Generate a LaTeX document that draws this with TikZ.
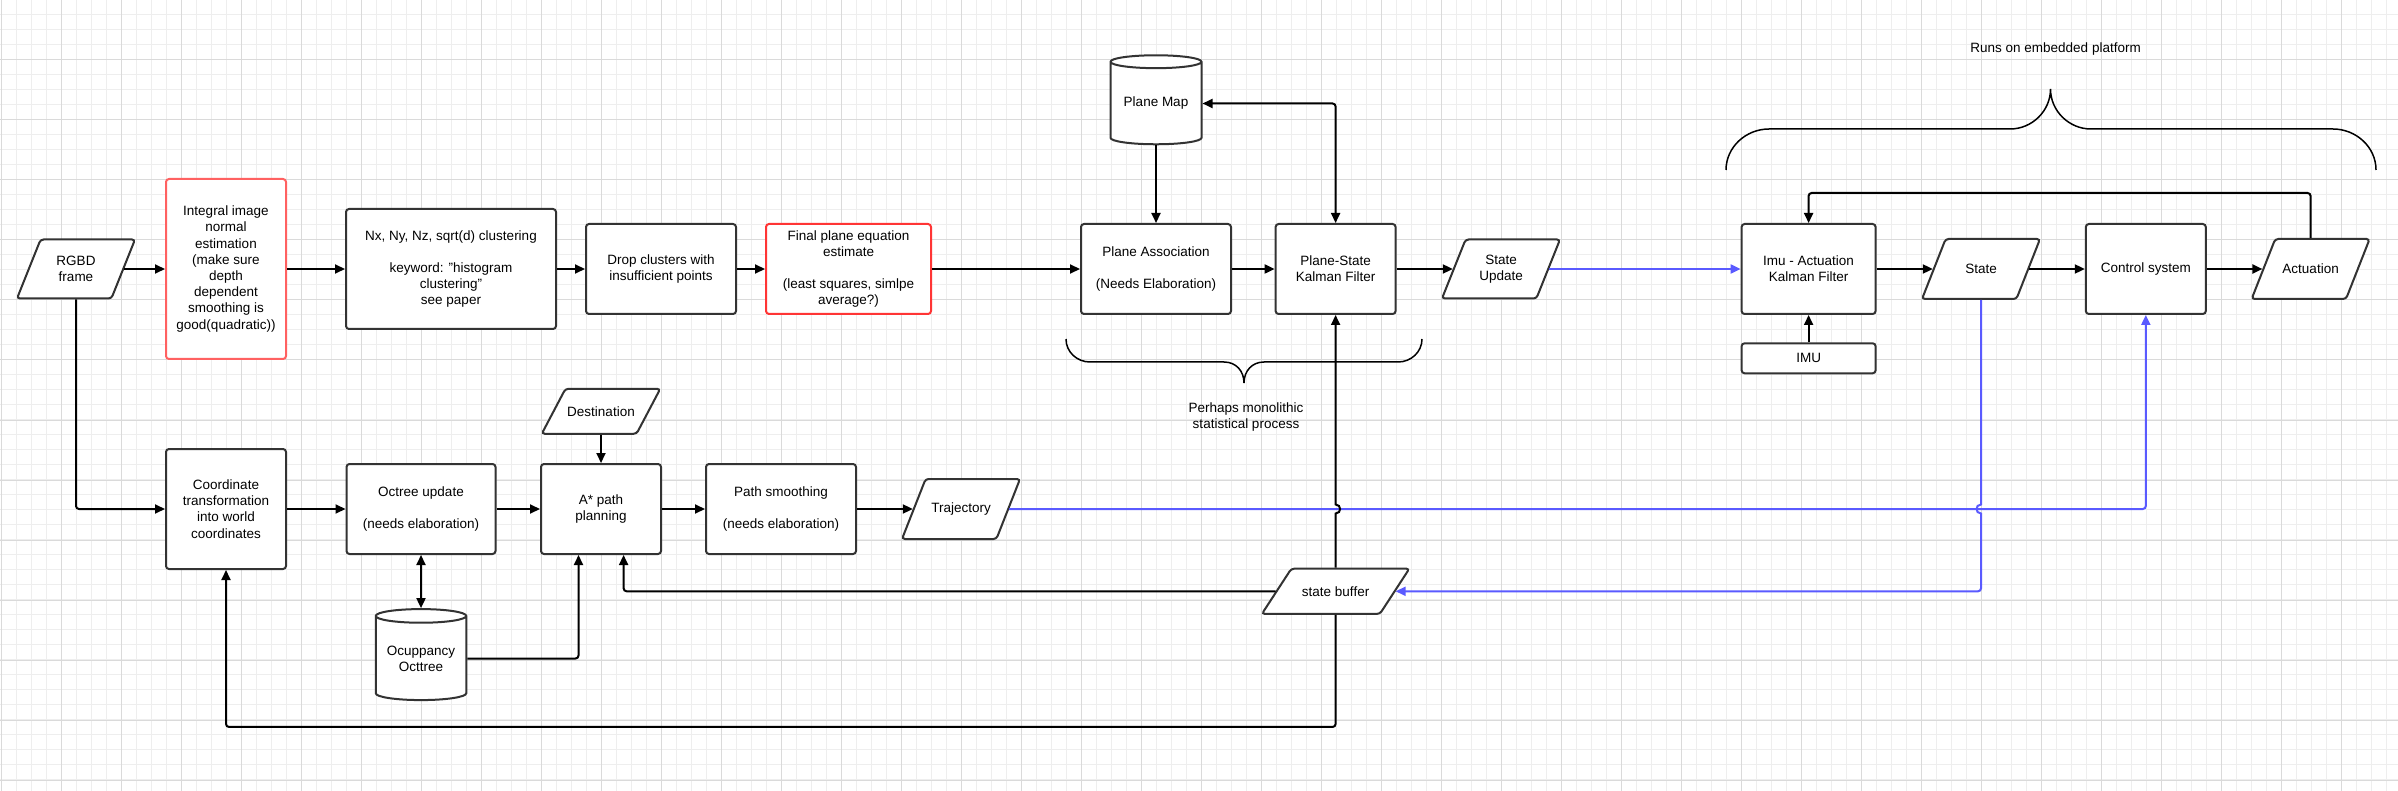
\documentclass[tikz,border=0pt]{standalone}
\usepackage{fontspec}
\setmainfont{Liberation Sans}
\usetikzlibrary{arrows.meta,calc}
\usetikzlibrary{positioning,shapes.geometric}

\definecolor{boxline}{HTML}{333333}
\definecolor{gridminor}{HTML}{EEEEEE}
\definecolor{gridmajor}{HTML}{DADADA}
\definecolor{redsoft}{HTML}{FF6161}
\definecolor{redstrong}{HTML}{FF3535}
\definecolor{bluelink}{HTML}{5A5AFF}

\tikzset{
  every node/.style={font=\fontsize{13.5}{16.2}\selectfont},
  procbox/.style={draw=boxline, line width=2pt, rounded corners=3pt, fill=white,
    align=center, inner sep=0pt},
  ioshape/.style={draw=boxline, line width=2pt, rounded corners=3pt, fill=white},
  iotext/.style={align=center, inner sep=0pt, outer sep=1pt},
  store/.style={cylinder, shape border rotate=90, aspect=0.2, draw=boxline,
    line width=2pt, fill=white, align=center, inner sep=0pt},
  conn/.style={draw=black, line width=2pt, rounded corners=3pt,
    -{Triangle[length=10pt,width=9pt]}},
  bothconn/.style={conn, {Triangle[length=10pt,width=9pt]}-{Triangle[length=10pt,width=9pt]}},
  blueconn/.style={conn, draw=bluelink},
  bracket/.style={draw=black, line width=1.5pt}
}

% slanted data box: name, x, y, width, height, text
\newcommand{\iopara}[6]{%
  \draw[ioshape] ({#2-#4/2},{#3+#5/2}) -- ({#2-0.3*#4},{#3-#5/2}) -- ({#2+#4/2},{#3-#5/2})
    -- ({#2+0.3*#4},{#3+#5/2}) -- cycle;
  \node[iotext, minimum width={0.8*#4}, minimum height=#5] (#1) at (#2,#3) {#6};
}

\begin{document}
\begin{tikzpicture}[x=1pt,y=-1pt]

  \useasboundingbox (0,0) rectangle (2398,791);
  \fill[white] (0,0) rectangle (2398,791);

  % background grid
  \foreach \i in {0,...,159}
    \draw[gridminor, line width=1pt] ({1+15*\i},0) -- ({1+15*\i},791);
  \foreach \j in {1,...,52}
    \draw[gridminor, line width=1pt] (0,{15*\j-0.5}) -- (2398,{15*\j-0.5});
  \foreach \i in {0,...,39}
    \draw[gridmajor, line width=1pt] ({1+60*\i},0) -- ({1+60*\i},791);
  \foreach \j in {1,...,13}
    \draw[gridmajor, line width=1pt] (0,{60*\j}) -- (2398,{60*\j});

  % upper row
  \iopara{rgbd}{76}{269}{118}{59}{RGBD\\frame}
  \node[procbox, draw=redsoft, minimum width=120pt, minimum height=180pt] (integral) at (226,269)
    {Integral image\\normal\\estimation\\(make sure\\depth\\dependent\\smoothing is\\good(quadratic))};
  \node[procbox, minimum width=210pt, minimum height=120pt] (cluster) at (451,269)
    {Nx, Ny, Nz, sqrt(d) clustering\\[16.2pt]keyword: "histogram\\clustering"\\see paper};
  \node[procbox, minimum width=150pt, minimum height=90pt] (drop) at (661,269)
    {Drop clusters with\\insufficient points};
  \node[procbox, draw=redstrong, minimum width=165pt, minimum height=90pt] (final) at (848.5,269)
    {Final plane equation\\estimate\\[16.2pt](least squares, simlpe\\average?)};
  \node[procbox, minimum width=150pt, minimum height=90pt] (assoc) at (1156,269)
    {Plane Association\\[16.2pt](Needs Elaboration)};
  \node[procbox, minimum width=120pt, minimum height=90pt] (kalman) at (1335.6,269)
    {Plane-State\\Kalman Filter};
  \node[store, minimum width=91pt, minimum height=89pt] (planemap) at (1156,103.5) {Plane Map};
  \iopara{stateupd}{1501}{269}{118}{59}{State\\Update}

  % embedded part
  \node[procbox, minimum width=134pt, minimum height=90pt] (imukf) at (1808.6,269)
    {Imu - Actuation\\Kalman Filter};
  \node[procbox, minimum width=134pt, minimum height=30pt] (imu) at (1808.6,358.3) {IMU};
  \iopara{state}{1981}{269}{118}{60}{State}
  \node[procbox, minimum width=120pt, minimum height=90pt] (control) at (2145.8,269) {Control system};
  \iopara{actuation}{2310.6}{269}{118}{60}{Actuation}

  % lower row
  \node[procbox, minimum width=120pt, minimum height=120pt] (coord) at (226,509)
    {Coordinate\\transformation\\into world\\coordinates};
  \node[procbox, minimum width=149pt, minimum height=90pt] (octree) at (421,509)
    {Octree update\\[16.2pt](needs elaboration)};
  \node[store, minimum width=90.5pt, minimum height=91pt] (occupancy) at (421,658.5)
    {Ocuppancy\\Octtree};
  \iopara{dest}{601}{411.3}{118.5}{45}{Destination}
  \node[procbox, minimum width=120pt, minimum height=90pt] (astar) at (601,509) {A* path\\planning};
  \node[procbox, minimum width=150pt, minimum height=90pt] (smooth) at (781,509)
    {Path smoothing\\[16.2pt](needs elaboration)};
  \iopara{traj}{961}{509}{118}{60}{Trajectory}
  \iopara{sbuf}{1335.6}{591.3}{147.5}{45.3}{state buffer}

  % notes
  \node (embedlabel) at (2055.6,49) {Runs on embedded platform};
  \node[align=center] (monolabel) at (1246,417) {Perhaps monolithic\\statistical process};

  \draw[bracket] (1726,170) .. controls (1726,147) and (1746,129) .. (1769,129) -- (2010,129)
    .. controls (2032,129) and (2050.5,111) .. (2050.5,89)
    .. controls (2050.5,111) and (2069,129) .. (2091,129) -- (2333,129)
    .. controls (2356,129) and (2376,147) .. (2376,170);
  \draw[bracket] (1066,339) .. controls (1066,352) and (1077,362) .. (1090,362) -- (1224,362)
    .. controls (1236,362) and (1244,371) .. (1244,383)
    .. controls (1244,371) and (1252,362) .. (1264,362) -- (1398,362)
    .. controls (1411,362) and (1422,352) .. (1422,339);

  % connectors
  \coordinate (hopA) at (kalman.south |- traj.east);
  \coordinate (hopB) at (state.south |- traj.east);

  \draw[conn] (rgbd) -- (integral);
  \draw[conn] (integral) -- (cluster);
  \draw[conn] (cluster) -- (drop);
  \draw[conn] (drop) -- (final);
  \draw[conn] (final) -- (assoc);
  \draw[conn] (planemap) -- (assoc);
  \draw[conn] (assoc) -- (kalman);
  \draw[bothconn] (planemap.east) -| (kalman.north);
  \draw[conn] (kalman) -- (stateupd);
  \draw[blueconn] (stateupd) -- (imukf);
  \draw[conn] (imu) -- (imukf);
  \draw[conn] (imukf) -- (state);
  \draw[conn] (state) -- (control);
  \draw[conn] (control) -- (actuation);
  \draw[conn] (actuation.north) -- ++(0,-45) -| (imukf.north);

  \draw[conn] (rgbd.south) |- (coord.west);
  \draw[conn] (coord) -- (octree);
  \draw[conn] (octree) -- (astar);
  \draw[conn] (dest) -- (astar);
  \draw[bothconn] (octree) -- (occupancy);
  \draw[conn] (occupancy.east) -| ([xshift=-22.5pt]astar.south);
  \draw[conn] (astar) -- (smooth);
  \draw[conn] (smooth) -- (traj);
  \draw[blueconn] (traj.east) -| (control.south);

  \draw[conn] (sbuf.west) -| ([xshift=22.6pt]astar.south);
  \draw[conn, sharp corners] (sbuf.north) -- ($(hopA)+(0,4.5)$)
    .. controls ($(hopA)+(6,4.5)$) and ($(hopA)+(6,-4.5)$) .. ($(hopA)+(0,-4.5)$) -- (kalman.south);
  \draw[conn] (sbuf.south) -- ++(0,112) -| (coord.south);
  \draw[blueconn] (state.south) [sharp corners] -- ($(hopB)+(0,-4.5)$)
    .. controls ($(hopB)+(-6,-4.5)$) and ($(hopB)+(-6,4.5)$) .. ($(hopB)+(0,4.5)$)
    [rounded corners=3pt] |- (sbuf.east);

\end{tikzpicture}
\end{document}
